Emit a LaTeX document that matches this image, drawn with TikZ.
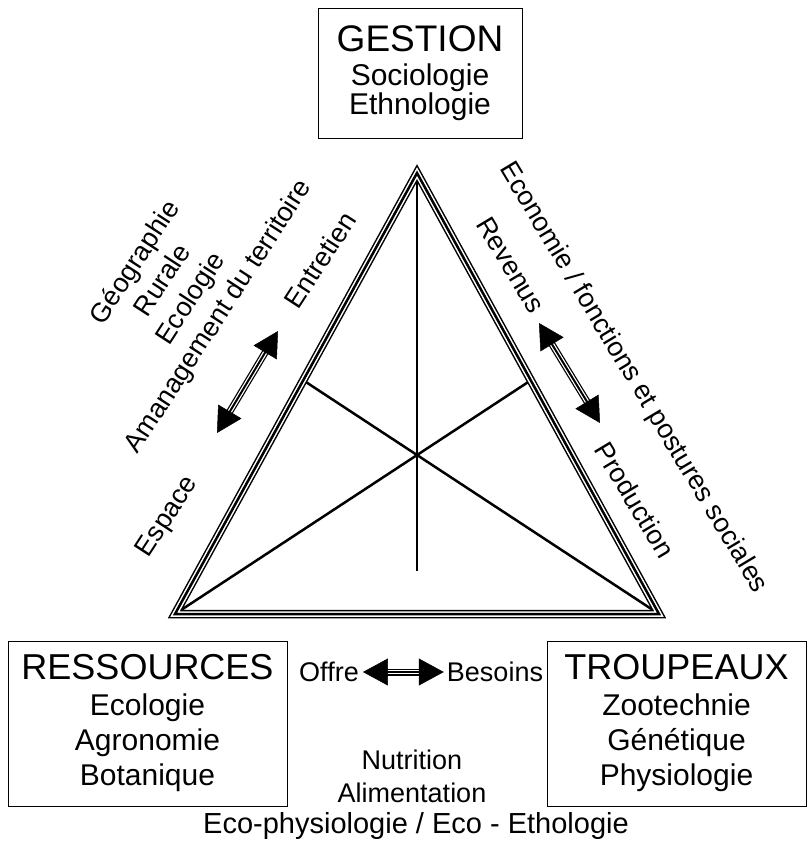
\documentclass[tikz,border=0pt]{standalone}
\usepackage{fontspec}
\setmainfont{Liberation Sans}
\usetikzlibrary{arrows.meta,calc}

\begin{document}
\begin{tikzpicture}[x=1pt,y=-1pt,
            every node/.style={font=\fontsize{27}{33}\selectfont},
            box/.style={draw,line width=1pt,align=center,inner sep=0pt},
            rim/.style={line width=2.5pt,preaction={draw,line width=8.5pt},preaction={draw=white,line width=5.5pt}},
            shaft/.style={line width=2pt,preaction={draw,line width=7pt},preaction={draw=white,line width=4.5pt}},
            tip/.style={{Triangle[length=25pt,width=27pt]}-{Triangle[length=25pt,width=27pt]},line width=0.5pt}]
            \useasboundingbox (0,0) rectangle (810,843);
            \coordinate (A) at (417,173);
            \coordinate (B) at (175,614);
            \coordinate (C) at (659,614);
            \coordinate (O) at (417,455);
            \coordinate (V) at (417,571);
            \draw[line width=2.5pt] (A) -- (V);
            \draw[line width=2.5pt] (B) -- (intersection of B--O and A--C);
            \draw[line width=2.5pt] (C) -- (intersection of C--O and A--B);
            \draw[rim] (A) -- (B) -- (C) -- cycle;
            \node[box,minimum width=204pt,minimum height=129pt,font=\fontsize{30}{29}\selectfont] (gestion) at (420,73.5)
              {{\fontsize{37}{37}\selectfont GESTION}\\[5pt]Sociologie\\Ethnologie};
            \node[box,minimum width=279pt,minimum height=165pt,font=\fontsize{30}{35}\selectfont] (ressources) at (147.5,723.5)
              {{\fontsize{36}{36}\selectfont RESSOURCES}\\[1pt]Ecologie\\Agronomie\\Botanique};
            \node[box,minimum width=259pt,minimum height=165pt,font=\fontsize{30}{35}\selectfont] (troupeaux) at (676.5,723.5)
              {{\fontsize{36}{36}\selectfont TROUPEAUX}\\[1pt]Zootechnie\\Génétique\\Physiologie};
            \node[inner sep=4pt] (offre) at (329,672) {Offre};
            \node[inner sep=3pt] (besoins) at (495,672) {Besoins};
            \draw[shaft] ($(offre.east)!22pt!(besoins.west)$) -- ($(besoins.west)!22pt!(offre.east)$);
            \draw[tip] (offre.east) -- (besoins.west);
            \node[align=center] (nutrition) at (412,776) {Nutrition\\Alimentation};
            \node[font=\fontsize{29}{33}\selectfont] (eco) at (416,826) {Eco-physiologie / Eco - Ethologie};
            \node[rotate=57,align=center] (geo) at (177.5,290) {Géographie\\Rurale\\Ecologie\\Amanagement du territoire};
            \node[rotate=57] (entretien) at (320,260) {Entretien};
            \node[rotate=57] (espace) at (168,517) {Espace};
            \node[rotate=-59] (economie) at (633,378) {Economie / fonctions et postures sociales};
            \node[rotate=-59] (revenus) at (511,265) {Revenus};
            \node[rotate=-59] (production) at (635,500) {Production};
            \coordinate (l1) at (217,433);
            \coordinate (l2) at (278,331);
            \coordinate (r1) at (539,323);
            \coordinate (r2) at (600,423);
            \draw[shaft] ($(l1)!22pt!(l2)$) -- ($(l2)!22pt!(l1)$);
            \draw[tip] (l1) -- (l2);
            \draw[shaft] ($(r1)!22pt!(r2)$) -- ($(r2)!22pt!(r1)$);
            \draw[tip] (r1) -- (r2);
          \end{tikzpicture}
\end{document}
